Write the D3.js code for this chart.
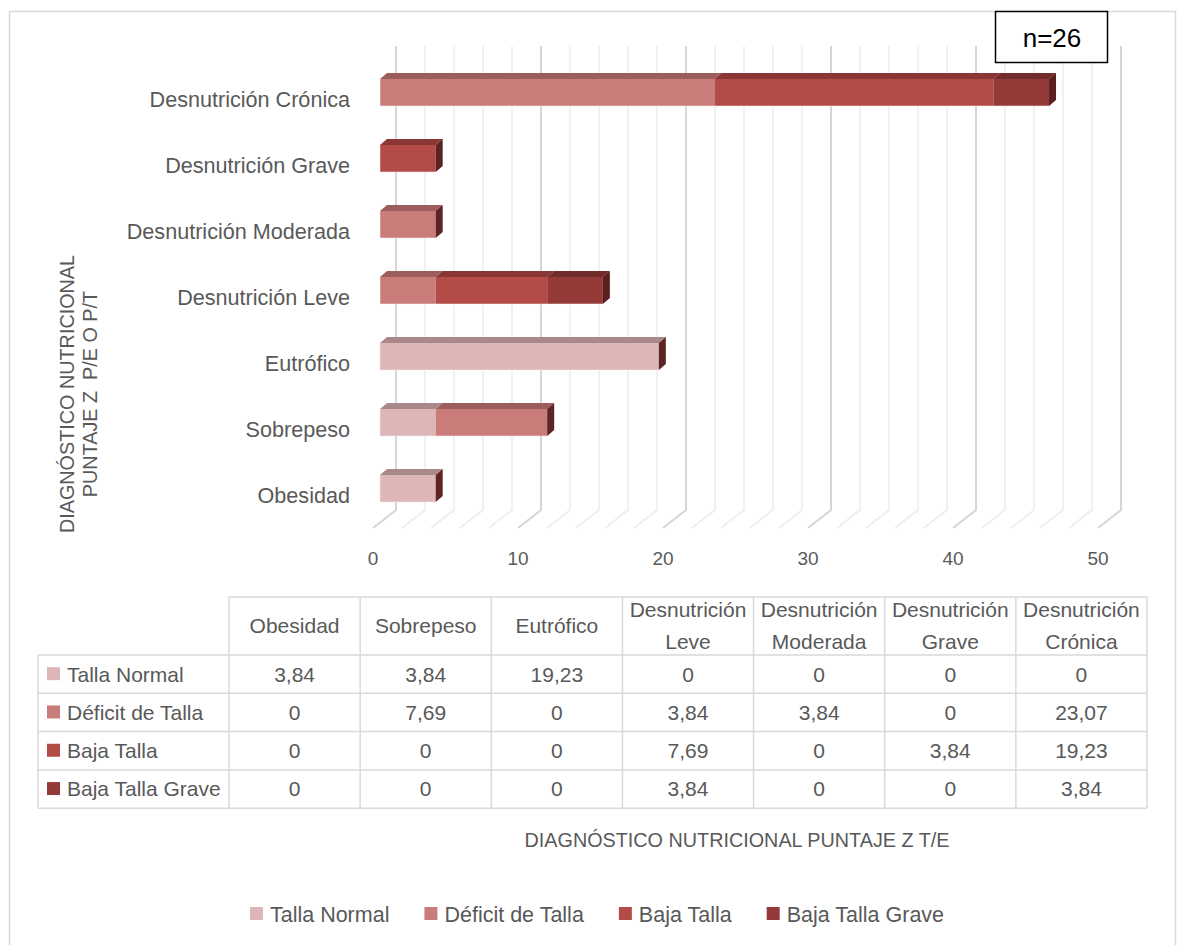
<!DOCTYPE html>
<html>
<head>
<meta charset="utf-8">
<script src="https://cdn.jsdelivr.net/npm/d3@7"></script>
<style>
  html, body { margin: 0; padding: 0; background: #ffffff; }
  svg { display: block; }
  text { font-family: "Liberation Sans", Arial, sans-serif; }
</style>
</head>
<body>
<svg id="chart" width="1179" height="945"></svg>
<script>
// ---------- data ----------
const categories = ["Obesidad", "Sobrepeso", "Eutrófico", "Desnutrición Leve", "Desnutrición Moderada", "Desnutrición Grave", "Desnutrición Crónica"];
const seriesNames = ["Talla Normal", "Déficit de Talla", "Baja Talla", "Baja Talla Grave"];
const tallaNormal   = [3.84, 3.84, 19.23, 0, 0, 0, 0];
const deficitTalla  = [0, 7.69, 0, 3.84, 3.84, 0, 23.07];
const bajaTalla     = [0, 0, 0, 7.69, 0, 3.84, 19.23];
const bajaTallaGrave= [0, 0, 0, 3.84, 0, 0, 3.84];
const xTicks = [0, 10, 20, 30, 40, 50];
const yTitleLines = ["DIAGNÓSTICO NUTRICIONAL", "PUNTAJE Z  P/E O P/T"];
const xTitle = "DIAGNÓSTICO NUTRICIONAL PUNTAJE Z T/E";
const annotation = "n=26";

const seriesValues = [tallaNormal, deficitTalla, bajaTalla, bajaTallaGrave];
const frontColors = ["#DDB7B7", "#C97C7A", "#B34B47", "#943A39"];
const topColors   = ["#A88888", "#9B5E5D", "#893634", "#722C2B"];
const sideColors  = ["#5E2424", "#5E2323", "#5C2221", "#5A2020"];
const textColor = "#595959";
const gridMajor = "#D6D6D6", gridMinor = "#EEEEEE", tableLine = "#D9D9D9";

const svg = d3.select("#chart");

// outer border
svg.append("rect").attr("x", 9.5).attr("y", 11.5).attr("width", 1166).attr("height", 945)
  .attr("fill", "#fff").attr("stroke", "#D9D9D9").attr("stroke-width", 1.5);

// ---------- scales ----------
const xBack  = d3.scaleLinear().domain([0, 50]).range([396, 1121]);
const xFront = d3.scaleLinear().domain([0, 50]).range([373, 1098]);
const xBar   = d3.scaleLinear().domain([0, 50]).range([380, 1105]);
const yBand  = d3.scaleBand().domain(categories.slice().reverse()).range([66, 528]);
const wallTop = 46, wallBottom = 510, floorFront = 528;
const dX = 7, dY = 6, faceUp = 20, faceH = 27;

// ---------- gridlines (back wall + floor) ----------
const gridVals = d3.range(0, 51, 2);
const grid = svg.append("g");
gridVals.forEach(v => {
  const major = v % 10 === 0;
  grid.append("path")
    .attr("d", `M${xBack(v)},${wallTop} L${xBack(v)},${wallBottom} L${xFront(v)},${floorFront}`)
    .attr("fill", "none")
    .attr("stroke", major ? gridMajor : gridMinor)
    .attr("stroke-width", major ? 2 : 1.6);
});

// tick labels
svg.append("g").selectAll("text").data(xTicks).join("text")
  .attr("x", d => xFront(d)).attr("y", 558).attr("dy", "0.35em")
  .attr("text-anchor", "middle").attr("font-size", 19).attr("fill", textColor)
  .text(d => d);

// ---------- bars ----------
const barsG = svg.append("g");
categories.forEach((cat, ci) => {
  const cy = yBand(cat) + yBand.bandwidth() / 2;
  const top = cy - faceUp, bottom = top + faceH;
  let cum = 0;
  const segs = [];
  seriesValues.forEach((arr, si) => {
    const v = arr[ci];
    if (v > 0) { segs.push({ si, x0: xBar(cum), x1: xBar(cum + v) }); cum += v; }
  });
  segs.forEach(s => {
    barsG.append("path")
      .attr("d", `M${s.x0},${top} L${s.x0 + dX},${top - dY} L${s.x1 + dX},${top - dY} L${s.x1},${top} Z`)
      .attr("fill", topColors[s.si]);
  });
  segs.forEach(s => {
    barsG.append("rect").attr("x", s.x0).attr("y", top).attr("width", s.x1 - s.x0).attr("height", faceH)
      .attr("fill", frontColors[s.si]);
  });
  if (segs.length) {
    const last = segs[segs.length - 1];
    barsG.append("path")
      .attr("d", `M${last.x1},${top} L${last.x1 + dX},${top - dY} L${last.x1 + dX},${bottom - dY} L${last.x1},${bottom} Z`)
      .attr("fill", sideColors[last.si]);
    barsG.append("path")
      .attr("d", `M${segs[0].x0},${top} L${segs[0].x0},${bottom} L${last.x1},${bottom}`)
      .attr("fill", "none").attr("stroke", "rgba(255,235,235,0.55)").attr("stroke-width", 1);
  }
});

// category labels
svg.append("g").selectAll("text").data(categories).join("text")
  .attr("x", 350).attr("y", d => yBand(d) + yBand.bandwidth() / 2).attr("dy", "0.35em")
  .attr("text-anchor", "end").attr("font-size", 21.6).attr("fill", textColor)
  .text(d => d);

// y title
const yt = svg.append("g").attr("transform", "translate(79,394) rotate(-90)");
yTitleLines.forEach((ln, i) => {
  yt.append("text").attr("x", 0).attr("y", (i - 0.5) * 23).attr("dy", "0.35em")
    .attr("text-anchor", "middle").attr("font-size", 19.8).attr("fill", textColor)
    .attr("xml:space", "preserve").style("white-space", "pre").text(ln);
});

// n box
svg.append("rect").attr("x", 995.5).attr("y", 11.5).attr("width", 112).attr("height", 51)
  .attr("fill", "#fff").attr("stroke", "#000").attr("stroke-width", 1.5);
svg.append("text").attr("x", 1052).attr("y", 38).attr("dy", "0.35em").attr("text-anchor", "middle")
  .attr("font-size", 26).attr("fill", "#000").text(annotation);

// ---------- data table ----------
const colX = d3.scaleBand().domain(categories).range([229, 1147]);
const headTop = 597, headBottom = 655, rowH = 38.3, tableLeft = 38;
const rowY = i => headBottom + i * rowH;
const tbl = svg.append("g");
const tableBottom = rowY(seriesNames.length);
// horizontal lines
tbl.append("line").attr("x1", 229).attr("x2", 1147).attr("y1", headTop).attr("y2", headTop);
d3.range(seriesNames.length + 1).forEach(i => {
  tbl.append("line").attr("x1", tableLeft).attr("x2", 1147).attr("y1", rowY(i)).attr("y2", rowY(i));
});
// vertical lines
tbl.append("line").attr("x1", tableLeft).attr("x2", tableLeft).attr("y1", headBottom).attr("y2", tableBottom);
categories.forEach(c => {
  tbl.append("line").attr("x1", colX(c)).attr("x2", colX(c)).attr("y1", headTop).attr("y2", tableBottom);
});
tbl.append("line").attr("x1", 1147).attr("x2", 1147).attr("y1", headTop).attr("y2", tableBottom);
tbl.selectAll("line").attr("stroke", tableLine).attr("stroke-width", 1.5);

// header texts
categories.forEach(c => {
  const cx = colX(c) + colX.bandwidth() / 2;
  const parts = c.split(" ");
  const n = parts.length;
  parts.forEach((p, i) => {
    tbl.append("text").attr("x", cx)
      .attr("y", (headTop + headBottom) / 2 + (i - (n - 1) / 2) * 32)
      .attr("dy", "0.35em").attr("text-anchor", "middle")
      .attr("font-size", 21).attr("fill", textColor).text(p);
  });
});
// rows
seriesNames.forEach((s, si) => {
  const cy = rowY(si) + rowH / 2;
  tbl.append("rect").attr("x", 47).attr("y", cy - 7).attr("width", 13).attr("height", 13)
    .attr("fill", frontColors[si]);
  tbl.append("text").attr("x", 67).attr("y", cy).attr("dy", "0.35em")
    .attr("font-size", 21).attr("fill", textColor).text(s);
  categories.forEach((c, ci) => {
    tbl.append("text").attr("x", colX(c) + colX.bandwidth() / 2).attr("y", cy).attr("dy", "0.35em")
      .attr("text-anchor", "middle").attr("font-size", 21).attr("fill", textColor)
      .text(String(seriesValues[si][ci]).replace(".", ","));
  });
});

// x title
svg.append("text").attr("x", 737).attr("y", 840).attr("dy", "0.35em").attr("text-anchor", "middle")
  .attr("font-size", 19.8).attr("fill", textColor).text(xTitle);

// ---------- legend ----------
const leg = svg.append("g");
const items = seriesNames.map((s, i) => {
  const g = leg.append("g");
  g.append("rect").attr("x", 0).attr("y", -7).attr("width", 13).attr("height", 13).attr("fill", frontColors[i]);
  const t = g.append("text").attr("x", 20).attr("y", 0).attr("dy", "0.35em")
    .attr("font-size", 21.5).attr("fill", textColor).text(s);
  return { g, w: 20 + t.node().getComputedTextLength() };
});
const gap = 35;
const total = d3.sum(items, d => d.w) + gap * (items.length - 1);
let lx = 597 - total / 2;
items.forEach(it => { it.g.attr("transform", `translate(${lx},914)`); lx += it.w + gap; });
</script>
</body>
</html>
